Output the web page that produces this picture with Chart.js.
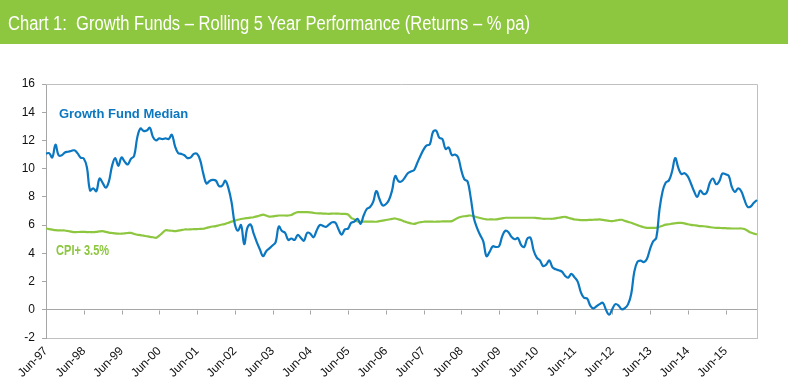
<!DOCTYPE html>
<html>
<head>
<meta charset="utf-8">
<script src="https://cdn.jsdelivr.net/npm/chart.js@4.4.1/dist/chart.umd.min.js"></script>
<style>
  html, body { margin: 0; padding: 0; background: #fff; }
  #wrap { position: relative; width: 788px; height: 388px; overflow: hidden; }
  #titlebar { position: absolute; left: 0; top: 0; width: 788px; height: 44px; background: #8DC63F; z-index: 2; }
  #titletext { position: absolute; left: 8px; top: 0; color: #fff; font-family: "Liberation Sans", Arial, sans-serif;
    font-size: 20px; line-height: 46px; white-space: pre; transform-origin: 0 50%; }
  canvas { position: absolute; left: 0; top: 0; }
</style>
</head>
<body>
<div id="wrap">
  <div id="titlebar"><span id="titletext">Chart 1:  Growth Funds – Rolling 5 Year Performance (Returns – % pa)</span></div>
  <canvas id="c" width="788" height="388"></canvas>
</div>
<script>
// ---- Data (monthly, from Jun-97) ----
const growthFundMedian = [
  11.07, 11.1, 10.8, 11.7, 10.95, 10.95, 11.15, 11.2, 11.25, 11.3, 11.1, 10.78,
  10.72, 10.1, 8.46, 8.6, 8.4, 9.3, 9.0, 8.65, 9.1, 10.2, 10.75, 10.2,
  10.8, 10.5, 10.3, 10.7, 10.9, 12.2, 12.85, 12.68, 12.7, 12.9, 12.25, 12.0,
  12.15, 12.1, 12.15, 12.1, 12.4, 11.6, 11.1, 11.05, 10.95, 10.75, 10.8, 11.05,
  11.05, 10.6, 9.65, 8.95, 9.13, 9.2, 9.15, 8.77, 8.8, 9.15, 8.6, 7.6,
  6.1, 5.6, 6.0, 4.65, 5.8, 6.05, 5.4, 4.8, 4.27, 3.8, 4.15, 4.35,
  4.55, 4.8, 5.9, 5.58, 5.45, 4.95, 5.05, 4.95, 5.3, 5.1, 4.9, 5.45,
  5.4, 5.14, 5.6, 6.0, 5.95, 5.88, 6.05, 6.2, 6.17, 5.69, 5.33, 5.7,
  5.75, 6.16, 6.25, 6.45, 6.1, 6.7, 7.15, 7.28, 7.65, 8.41, 7.85, 7.4,
  7.48, 7.78, 8.45, 9.48, 9.12, 9.1, 9.35, 9.68, 9.8, 9.9, 10.4, 10.9,
  11.35, 11.65, 11.72, 12.6, 12.7, 12.2, 12.1, 11.4, 11.5, 10.96, 11.0, 10.8,
  9.9, 9.24, 9.1, 7.95, 6.5, 5.8, 5.3, 4.85, 3.8, 4.1, 4.5, 4.45,
  4.5, 5.2, 5.6, 5.5, 5.15, 5.0, 5.08, 4.6, 4.45, 5.05, 5.1, 4.2,
  3.7, 3.5, 3.1, 3.2, 3.5, 3.0, 2.87, 2.8, 2.7, 2.4, 2.28, 2.55,
  2.3, 2.0, 1.25, 0.85, 0.8, 0.3, 0.1, 0.25, 0.4, 0.5, 0.0, -0.35,
  0.05, 0.4, 0.3, 0.03, 0.12, 0.38, 1.1, 2.7, 3.4, 3.48, 3.38, 3.6,
  4.3, 4.85, 5.1, 7.1, 8.4, 9.02, 9.17, 9.8, 10.75, 10.05, 9.62, 9.68,
  9.45, 8.95, 8.4, 8.0, 8.45, 8.2, 8.3, 9.0, 9.3, 8.9, 9.1, 9.65,
  9.6, 9.5, 8.7, 8.35, 8.6, 8.4, 7.8, 7.3, 7.32, 7.58, 7.78
];
const cpiPlus35 = [
  5.76, 5.72, 5.68, 5.64, 5.63, 5.62, 5.62, 5.58, 5.54, 5.5, 5.51, 5.52,
  5.52, 5.51, 5.51, 5.5, 5.52, 5.55, 5.57, 5.52, 5.47, 5.44, 5.41, 5.39,
  5.39, 5.42, 5.44, 5.45, 5.38, 5.32, 5.29, 5.25, 5.21, 5.17, 5.14, 5.1,
  5.25, 5.45, 5.64, 5.62, 5.6, 5.57, 5.61, 5.65, 5.69, 5.69, 5.7, 5.71,
  5.72, 5.73, 5.74, 5.8, 5.86, 5.9, 5.93, 5.99, 6.04, 6.09, 6.17, 6.25,
  6.31, 6.38, 6.43, 6.47, 6.5, 6.53, 6.56, 6.62, 6.68, 6.75, 6.68, 6.6,
  6.62, 6.65, 6.68, 6.68, 6.68, 6.68, 6.72, 6.84, 6.92, 6.92, 6.92, 6.92,
  6.9, 6.87, 6.84, 6.83, 6.82, 6.81, 6.8, 6.82, 6.82, 6.81, 6.8, 6.8,
  6.75, 6.52, 6.4, 6.26, 6.24, 6.24, 6.24, 6.24, 6.24, 6.24, 6.28, 6.32,
  6.36, 6.4, 6.44, 6.47, 6.41, 6.35, 6.25, 6.18, 6.12, 6.09, 6.15, 6.2,
  6.24, 6.24, 6.24, 6.24, 6.24, 6.25, 6.26, 6.27, 6.27, 6.28, 6.4, 6.52,
  6.59, 6.63, 6.66, 6.68, 6.62, 6.56, 6.5, 6.45, 6.4, 6.4, 6.4, 6.4,
  6.44, 6.48, 6.52, 6.52, 6.52, 6.52, 6.52, 6.52, 6.52, 6.52, 6.52, 6.52,
  6.5, 6.48, 6.45, 6.45, 6.45, 6.45, 6.48, 6.52, 6.56, 6.59, 6.52, 6.46,
  6.4, 6.38, 6.36, 6.35, 6.36, 6.37, 6.38, 6.39, 6.4, 6.37, 6.33, 6.3,
  6.28, 6.32, 6.36, 6.38, 6.3, 6.23, 6.17, 6.08, 6.0, 5.92, 5.85, 5.81,
  5.81, 5.81, 5.81, 5.88, 5.96, 6.03, 6.06, 6.1, 6.13, 6.16, 6.16, 6.12,
  6.06, 6.02, 5.99, 5.96, 5.93, 5.92, 5.89, 5.86, 5.83, 5.81, 5.8, 5.79,
  5.78, 5.77, 5.76, 5.76, 5.76, 5.76, 5.72, 5.6, 5.47, 5.4, 5.33
];
const tickLabels = ['Jun-97','Jun-98','Jun-99','Jun-00','Jun-01','Jun-02','Jun-03','Jun-04','Jun-05',
  'Jun-06','Jun-07','Jun-08','Jun-09','Jun-10','Jun-11','Jun-12','Jun-13','Jun-14','Jun-15'];
const yTickValues = [-2, 0, 2, 4, 6, 8, 10, 12, 14, 16];
const monthNames = ['Jan','Feb','Mar','Apr','May','Jun','Jul','Aug','Sep','Oct','Nov','Dec'];
const startMonth = 5, startYear = 1997;
const categories = growthFundMedian.map((_, i) => {
  const m = (startMonth + i) % 12;
  const y = (startYear + Math.floor((startMonth + i) / 12)) % 100;
  return monthNames[m] + '-' + String(y).padStart(2, '0');
});
const seriesNames = ['Growth Fund Median', 'CPI+ 3.5%'];
// label anchors in data space: [category index, value]
const seriesLabelAt = [[4.1, 13.87], [3.2, 4.13]];

const BLUE = '#0B77C0', GREEN = '#8DC63F', AXIS = '#A6A6A6', FRAME = '#C0C0C0';

// condense title like a narrow face
(function () {
  const t = document.getElementById('titletext');
  const w = t.getBoundingClientRect().width;
  t.style.transform = 'scaleX(' + (522 / w) + ')';
})();

const framePlugin = {
  id: 'frame',
  beforeDatasetsDraw(chart) {
    const { ctx, chartArea: a, scales } = chart;
    const x = scales.x, y = scales.y;
    ctx.save();
    ctx.lineWidth = 1;
    ctx.strokeStyle = FRAME;
    ctx.beginPath();
    const t = Math.round(a.top) + 0.5, r = Math.round(a.right) + 0.5;
    ctx.moveTo(Math.round(a.left), t); ctx.lineTo(r, t); ctx.lineTo(r, Math.round(a.bottom));
    ctx.stroke();
    const y0 = Math.round(y.getPixelForValue(0)) + 0.5;
    ctx.strokeStyle = AXIS;
    ctx.beginPath();
    categories.forEach((c, i) => {
      if (i > 0 && tickLabels.includes(c)) {
        const px = Math.round(x.getPixelForValue(i)) + 0.5;
        ctx.moveTo(px, y0); ctx.lineTo(px, y0 + 4);
      }
    });
    ctx.stroke();
    ctx.restore();
  },
  afterDatasetsDraw(chart) {
    const { ctx, scales } = chart;
    ctx.save();
    ctx.textBaseline = 'middle';
    ctx.textAlign = 'left';
    ctx.fillStyle = BLUE;
    ctx.font = 'bold 13px "Liberation Sans", Arial, sans-serif';
    ctx.fillText(seriesNames[0], scales.x.getPixelForValue(seriesLabelAt[0][0]), scales.y.getPixelForValue(seriesLabelAt[0][1]));
    ctx.fillStyle = GREEN;
    ctx.font = 'bold 14px "Liberation Sans", Arial, sans-serif';
    const px = scales.x.getPixelForValue(seriesLabelAt[1][0]);
    const py = scales.y.getPixelForValue(seriesLabelAt[1][1]);
    const w = ctx.measureText(seriesNames[1]).width;
    ctx.translate(px, py);
    ctx.scale(53 / w, 1);
    ctx.fillText(seriesNames[1], 0, 0);
    ctx.restore();
  }
};

new Chart(document.getElementById('c'), {
  type: 'line',
  data: {
    labels: categories,
    datasets: [
      { label: seriesNames[0], data: growthFundMedian, borderColor: BLUE, borderWidth: 2.2,
        pointRadius: 0, tension: 0.4, fill: false },
      { label: seriesNames[1], data: cpiPlus35, borderColor: GREEN, borderWidth: 2.2,
        pointRadius: 0, tension: 0.3, fill: false }
    ]
  },
  options: {
    responsive: false,
    animation: false,
    events: [],
    layout: { padding: { top: 84, right: 31, left: 0, bottom: 0 } },
    plugins: { legend: { display: false }, tooltip: { enabled: false }, title: { display: false } },
    scales: {
      x: {
        type: 'category',
        offset: false,
        grid: { display: false, drawTicks: false },
        border: { display: true, color: FRAME, width: 1 },
        afterFit(s) { s.height = 50; },
        ticks: {
          autoSkip: false, maxRotation: 45, minRotation: 45, padding: 6,
          color: '#111', font: { family: '"Liberation Sans", Arial, sans-serif', size: 12 },
          callback(v, i) { const c = categories[i]; return tickLabels.includes(c) ? c : null; }
        }
      },
      y: {
        min: -2, max: 16,
        afterFit(s) { s.width = 46; },
        afterBuildTicks(s) { s.ticks = yTickValues.map(v => ({ value: v })); },
        grid: {
          drawOnChartArea: true, drawTicks: true, tickLength: 4,
          color: (c) => (c.tick && c.tick.value === 0 ? AXIS : 'rgba(0,0,0,0)'),
          tickColor: AXIS
        },
        border: { display: true, color: AXIS, width: 1 },
        ticks: {
          autoSkip: false, padding: 7, color: '#111',
          font: { family: '"Liberation Sans", Arial, sans-serif', size: 12 }
        }
      }
    }
  },
  plugins: [framePlugin]
});
</script>
</body>
</html>
